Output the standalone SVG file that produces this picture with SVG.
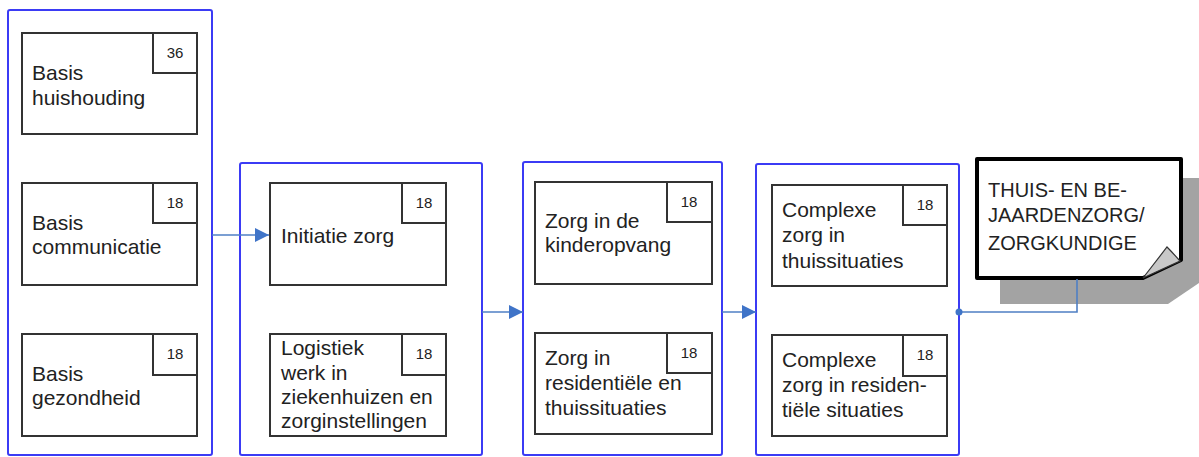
<svg xmlns="http://www.w3.org/2000/svg" width="1199" height="457" viewBox="0 0 1199 457">
<style>
.grp{fill:none;stroke:#3b3bf5;stroke-width:2}
.box{fill:#fff;stroke:#333;stroke-width:2}
.t{font-family:"Liberation Sans",Arial,sans-serif;font-size:21px;fill:#222}
.nt{font-family:"Liberation Sans",Arial,sans-serif;font-size:20px;fill:#222}
.n{font-family:"Liberation Sans",Arial,sans-serif;font-size:15px;fill:#222;text-anchor:middle}
.conn{fill:none;stroke:#4f7fc4;stroke-width:1.6}
</style>
<defs>
<marker id="ah" viewBox="0 0 10 10" refX="10" refY="5" markerWidth="18" markerHeight="14" markerUnits="userSpaceOnUse" orient="auto"><path d="M0,0 L10,5 L0,10 z" fill="#3f74c8"/></marker>
</defs>
<rect width="1199" height="457" fill="#fff"/>

<g id="group1">
<rect class="grp" x="8" y="10" width="204" height="445" rx="2"/>
<g id="basis-huishouding">
<rect class="box" x="22" y="33" width="175" height="101"/>
<rect class="box" x="153" y="33" width="44" height="40"/>
<text class="n" x="175" y="58">36</text>
<text class="t" x="32" y="80">Basis</text>
<text class="t" x="32" y="105">huishouding</text>
</g>
<g id="basis-communicatie">
<rect class="box" x="22" y="183" width="175" height="102"/>
<rect class="box" x="153" y="183" width="44" height="40"/>
<text class="n" x="175" y="208">18</text>
<text class="t" x="32" y="230">Basis</text>
<text class="t" x="32" y="254">communicatie</text>
</g>
<g id="basis-gezondheid">
<rect class="box" x="22" y="334" width="175" height="102"/>
<rect class="box" x="153" y="334" width="44" height="41"/>
<text class="n" x="175" y="359">18</text>
<text class="t" x="32" y="381">Basis</text>
<text class="t" x="32" y="405">gezondheid</text>
</g>
</g>

<g id="group2">
<rect class="grp" x="240" y="163" width="242" height="292" rx="2"/>
<g id="initiatie-zorg">
<rect class="box" x="270" y="183" width="176" height="102"/>
<rect class="box" x="402" y="183" width="44" height="40"/>
<text class="n" x="424" y="208">18</text>
<text class="t" x="281" y="243">Initiatie zorg</text>
</g>
<g id="logistiek">
<rect class="box" x="270" y="334" width="176" height="102"/>
<rect class="box" x="402" y="334" width="44" height="41"/>
<text class="n" x="424" y="359">18</text>
<text class="t" x="281" y="355">Logistiek</text>
<text class="t" x="281" y="380">werk in</text>
<text class="t" x="281" y="404">ziekenhuizen en</text>
<text class="t" x="281" y="428">zorginstellingen</text>
</g>
</g>

<g id="group3">
<rect class="grp" x="523" y="162" width="199" height="293" rx="2"/>
<g id="kinderopvang">
<rect class="box" x="535" y="182" width="177" height="102"/>
<rect class="box" x="667" y="182" width="45" height="40"/>
<text class="n" x="689" y="207">18</text>
<text class="t" x="545" y="228">Zorg in de</text>
<text class="t" x="545" y="252">kinderopvang</text>
</g>
<g id="residentieel">
<rect class="box" x="535" y="333" width="177" height="101"/>
<rect class="box" x="667" y="333" width="45" height="40"/>
<text class="n" x="689" y="358">18</text>
<text class="t" x="545" y="365">Zorg in</text>
<text class="t" x="545" y="390">residentiële en</text>
<text class="t" x="545" y="415">thuissituaties</text>
</g>
</g>

<g id="group4">
<rect class="grp" x="756" y="164" width="203" height="291" rx="2"/>
<g id="complexe-thuis">
<rect class="box" x="772" y="185" width="175" height="101"/>
<rect class="box" x="903" y="185" width="44" height="40"/>
<text class="n" x="925" y="210">18</text>
<text class="t" x="782" y="217">Complexe</text>
<text class="t" x="782" y="242">zorg in</text>
<text class="t" x="782" y="268">thuissituaties</text>
</g>
<g id="complexe-residentieel">
<rect class="box" x="772" y="335" width="175" height="101"/>
<rect class="box" x="903" y="335" width="44" height="41"/>
<text class="n" x="925" y="360">18</text>
<text class="t" x="782" y="367">Complexe</text>
<text class="t" x="782" y="392">zorg in residen-</text>
<text class="t" x="782" y="417">tiële situaties</text>
</g>
</g>

<g id="note">
<path d="M1000,178 H1199 V283 L1168,304 H1000 Z" fill="#a3a3a3"/>
<path d="M977,159 H1181 V260 L1143,278 H977 Z" fill="#fff" stroke="#000" stroke-width="4" stroke-linejoin="round"/>
<path d="M1143,278 L1167,247 Q1172,252 1180,261 Z" fill="#c8c8c8" stroke="#333" stroke-width="1.2"/>
<text class="nt" x="988" y="197">THUIS- EN BE-</text>
<text class="nt" x="988" y="222">JAARDENZORG/</text>
<text class="nt" x="988" y="250">ZORGKUNDIGE</text>
</g>

<g id="connectors">
<line class="conn" x1="212" y1="235" x2="269" y2="235" marker-end="url(#ah)"/>
<line class="conn" x1="482" y1="312" x2="523" y2="312" marker-end="url(#ah)"/>
<line class="conn" x1="722" y1="312" x2="756" y2="312" marker-end="url(#ah)"/>
<polyline class="conn" points="959,312 1077,312 1077,279"/>
<circle cx="959" cy="312" r="3.5" fill="#3f74c8"/>
</g>
</svg>
